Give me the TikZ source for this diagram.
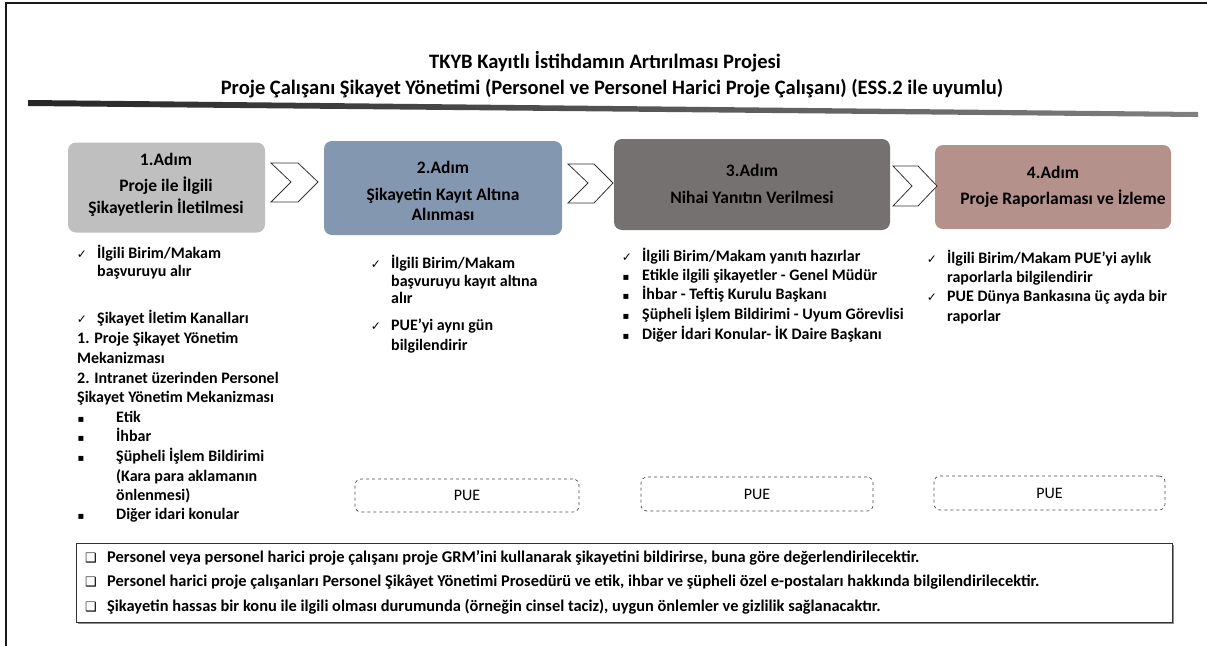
\documentclass[tikz,border=0pt]{standalone}
\usepackage{fontspec}
\setmainfont{Carlito}
\newfontfamily\dejavu{DejaVu Sans}
\definecolor{sA}{RGB}{191,191,191}
\definecolor{sB}{RGB}{132,151,176}
\definecolor{sC}{RGB}{118,113,113}
\definecolor{sD}{RGB}{181,145,139}
\begin{document}
\begin{tikzpicture}[x=1pt,y=-1pt,
  stepbox/.style={rounded corners=8pt, inner sep=0pt},
  chev/.style={draw=black!80, fill=white, line width=0.8pt, line join=miter},
  bt/.style={anchor=base west, inner sep=0pt, font=\bfseries\fontsize{16}{19}\selectfont},
  lt/.style={anchor=base west, inner sep=0pt, font=\bfseries\fontsize{16.4}{19}\selectfont},
  ht/.style={anchor=base, inner sep=0pt, font=\bfseries\fontsize{17.5}{20}\selectfont},
  tt/.style={anchor=base, inner sep=0pt, font=\bfseries\fontsize{20.5}{24}\selectfont},
  ck/.style={anchor=base, inner sep=0pt, font=\dejavu\fontsize{12}{14}\selectfont},
  sq/.style={anchor=base, inner sep=0pt, font=\dejavu\fontsize{10}{12}\selectfont},
  cb/.style={anchor=base, inner sep=0pt, font=\dejavu\fontsize{13}{14}\selectfont},
  puebox/.style={draw=black!70, dashed, line width=0.7pt, rounded corners=6pt, inner sep=0pt, font=\fontsize{16}{19}\selectfont}
]
\useasboundingbox (0,0) rectangle (1207,646);
% frame
\draw[line width=2pt, black!90] (6,646) -- (6,3) -- (1207,3);
% title
\node[tt] (t1) at (605,68) {TKYB Kayıtlı İstihdamın Artırılması Projesi};
\node[tt] (t2) at (612,94) {Proje Çalışanı Şikayet Yönetimi (Personel ve Personel Harici Proje Çalışanı) (ESS.2 ile uyumlu)};
\shade[left color=black!85, right color=black!50] (28,100) -- (1198,112) -- (1198,117) -- (28,106) -- cycle;
% step boxes
\node[stepbox, fill=sA, minimum width=197pt, minimum height=90pt] (s1) at (166.5,187.5) {};
\node[stepbox, fill=sB, minimum width=238pt, minimum height=94pt] (s2) at (443,188) {};
\node[stepbox, fill=sC, minimum width=276pt, minimum height=91pt] (s3) at (752,184.5) {};
\node[stepbox, fill=sD, minimum width=236pt, minimum height=84pt] (s4) at (1053,187) {};
\node[ht] (s1a) at (166,165) {1.Adım};
\node[ht] (s1b) at (166,191) {Proje ile İlgili};
\node[ht] (s1c) at (166,213) {Şikayetlerin İletilmesi};
\node[ht] (s2a) at (443,173) {2.Adım};
\node[ht] (s2b) at (443,200) {Şikayetin Kayıt Altına};
\node[ht] (s2c) at (443,220) {Alınması};
\node[ht] (s3a) at (752,176) {3.Adım};
\node[ht] (s3b) at (752,203) {Nihai Yanıtın Verilmesi};
\node[ht] (s4a) at (1053,178) {4.Adım};
\node[ht] (s4b) at (1063,204) {Proje Raporlaması ve İzleme};
% chevrons
\draw[chev] (271,163) -- (298,163) -- (318,182) -- (298,202) -- (271,202) -- (291,182) -- cycle;
\draw[chev] (568,164) -- (594,164) -- (613,183) -- (594,203) -- (568,203) -- (588,183) -- cycle;
\draw[chev] (893,166) -- (918,166) -- (937,186) -- (918,206) -- (893,206) -- (912,186) -- cycle;
% column 1
\node[ck] (k1) at (82,258) {✓};
\node[bt] (a1) at (97,258) {İlgili Birim/Makam};
\node[bt] (a2) at (97,276) {başvuruyu alır};
\node[ck] (k2) at (82,323) {✓};
\node[bt] (a3) at (97,323) {Şikayet İletim Kanalları};
\node[bt] (a4) at (77,343) {1. Proje Şikayet Yönetim};
\node[bt] (a5) at (77,363) {Mekanizması};
\node[bt] (a6) at (77,383) {2. Intranet üzerinden Personel};
\node[bt] (a7) at (77,402) {Şikayet Yönetim Mekanizması};
\node[sq] (q1) at (81,422) {▪};
\node[bt] (a8) at (116,422) {Etik};
\node[sq] (q2) at (81,441) {▪};
\node[bt] (a9) at (116,441) {İhbar};
\node[sq] (q3) at (81,461) {▪};
\node[bt] (a10) at (116,461) {Şüpheli İşlem Bildirimi};
\node[bt] (a11) at (116,481) {(Kara para aklamanın};
\node[bt] (a12) at (116,500) {önlenmesi)};
\node[sq] (q4) at (81,519) {▪};
\node[bt] (a13) at (116,519) {Diğer idari konular};
% column 2
\node[ck] (k3) at (376,268) {✓};
\node[bt] (b1) at (391,268) {İlgili Birim/Makam};
\node[bt] (b2) at (391,286) {başvuruyu kayıt altına};
\node[bt] (b3) at (391,303) {alır};
\node[ck] (k4) at (376,330) {✓};
\node[bt] (b4) at (391,330) {PUE’yi aynı gün};
\node[bt] (b5) at (391,350) {bilgilendirir};
% column 3
\node[ck] (k5) at (627,261) {✓};
\node[bt] (c1) at (642,261) {İlgili Birim/Makam yanıtı hazırlar};
\node[sq] (q5) at (626,280) {▪};
\node[bt] (c2) at (642,280) {Etikle ilgili şikayetler - Genel Müdür};
\node[sq] (q6) at (626,299) {▪};
\node[bt] (c3) at (642,299) {İhbar - Teftiş Kurulu Başkanı};
\node[sq] (q7) at (626,319) {▪};
\node[bt] (c4) at (642,319) {Şüpheli İşlem Bildirimi - Uyum Görevlisi};
\node[sq] (q8) at (626,339) {▪};
\node[bt] (c5) at (642,339) {Diğer İdari Konular- İK Daire Başkanı};
% column 4
\node[ck] (k6) at (932,263) {✓};
\node[bt] (d1) at (947,263) {İlgili Birim/Makam PUE’yi aylık};
\node[bt] (d2) at (947,282) {raporlarla bilgilendirir};
\node[ck] (k7) at (932,301) {✓};
\node[bt] (d3) at (947,301) {PUE Dünya Bankasına üç ayda bir};
\node[bt] (d4) at (947,321) {raporlar};
% PUE boxes
\node[puebox, minimum width=224pt, minimum height=33pt] (p1) at (467,495.5) {PUE};
\node[puebox, minimum width=232pt, minimum height=34pt] (p2) at (757,494) {PUE};
\node[puebox, minimum width=231pt, minimum height=34pt] (p3) at (1049.5,493) {PUE};
% bottom box
\fill[black!45] (78,545) rectangle (1174,624);
\node[draw=black!80, fill=white, line width=0.8pt, minimum width=1096pt, minimum height=79pt, inner sep=0pt] (bb) at (624,582.5) {};
\node[cb] (e0) at (91,562) {❑};
\node[lt] (e1) at (107,562) {Personel veya personel harici proje çalışanı proje GRM’ini kullanarak şikayetini bildirirse, buna göre değerlendirilecektir.};
\node[cb] (f0) at (91,586) {❑};
\node[lt] (f1) at (107,586) {Personel harici proje çalışanları Personel Şikâyet Yönetimi Prosedürü ve etik, ihbar ve şüpheli özel e-postaları hakkında bilgilendirilecektir.};
\node[cb] (g0) at (91,611) {❑};
\node[lt] (g1) at (107,611) {Şikayetin hassas bir konu ile ilgili olması durumunda (örneğin cinsel taciz), uygun önlemler ve gizlilik sağlanacaktır.};
\end{tikzpicture}
\end{document}
